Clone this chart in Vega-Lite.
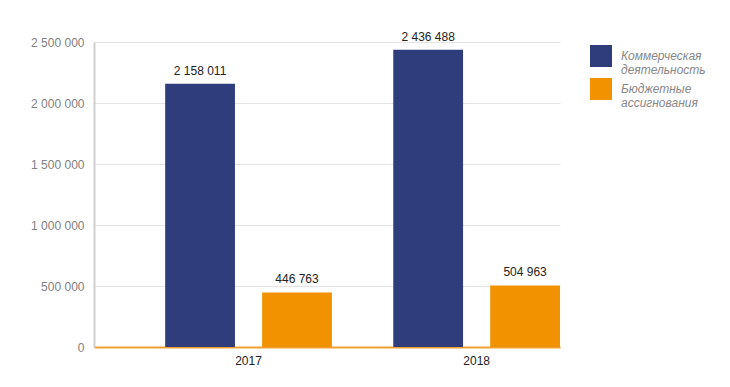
{
  "$schema": "https://vega.github.io/schema/vega-lite/v6.json",
  "width": 466,
  "height": 305,
  "autosize": {"type": "none"},
  "padding": {"left": 94, "top": 42, "right": 170, "bottom": 40},
  "background": "white",
  "config": {
    "locale": {"number": {"decimal": ",", "thousands": " ", "grouping": [3], "currency": ["", ""]}},
    "font": "Liberation Sans",
    "view": {"stroke": null}
  },
  "data": {
    "values": [
      {"year": "2017", "series": "Коммерческая деятельность", "value": 2158011},
      {"year": "2017", "series": "Бюджетные ассигнования", "value": 446763},
      {"year": "2018", "series": "Коммерческая деятельность", "value": 2436488},
      {"year": "2018", "series": "Бюджетные ассигнования", "value": 504963}
    ]
  },
  "encoding": {
    "x": {
      "field": "year",
      "type": "nominal",
      "scale": {"paddingInner": 0.269, "paddingOuter": 0.156, "align": 1},
      "axis": {
        "title": null,
        "labelAngle": 0,
        "ticks": false,
        "domainColor": "#f0a030",
        "domainWidth": 2,
        "labelColor": "#222",
        "labelFontSize": 12,
        "labelPadding": 8,
        "grid": false
      }
    },
    "xOffset": {
      "field": "series",
      "type": "nominal",
      "sort": ["Коммерческая деятельность", "Бюджетные ассигнования"],
      "scale": {"paddingInner": 0.28, "paddingOuter": 0}
    },
    "y": {
      "field": "value",
      "type": "quantitative",
      "scale": {"domain": [0, 2500000], "nice": false},
      "axis": {
        "title": null,
        "values": [0, 500000, 1000000, 1500000, 2000000, 2500000],
        "format": ",d",
        "ticks": false,
        "domainColor": "#d0d0d0",
        "domainWidth": 2,
        "gridColor": "#e3e3e3",
        "labelColor": "#808080",
        "labelFontSize": 12,
        "labelPadding": 10
      }
    }
  },
  "layer": [
    {
      "mark": {"type": "bar"},
      "encoding": {
        "color": {
          "field": "series",
          "type": "nominal",
          "sort": ["Коммерческая деятельность", "Бюджетные ассигнования"],
          "scale": {"range": ["#2f3d7d", "#f39200"]},
          "legend": {
            "title": null,
            "orient": "none",
            "legendX": 496,
            "legendY": 3,
            "symbolType": "square",
            "symbolSize": 484,
            "symbolStrokeWidth": 0,
            "symbolOpacity": 1,
            "labelFontSize": 12,
            "labelFontStyle": "italic",
            "labelColor": "#888",
            "labelOffset": 9,
            "rowPadding": 2,
            "labelLimit": 200,
            "labelExpr": "datum.label == 'Коммерческая деятельность' ? ['Коммерческая', 'деятельность'] : ['Бюджетные', 'ассигнования']"
          }
        }
      }
    },
    {
      "mark": {"type": "text", "baseline": "bottom", "dy": -6, "fontSize": 12, "color": "#222"},
      "encoding": {
        "text": {"field": "value", "type": "quantitative", "format": ",d"}
      }
    }
  ]
}
